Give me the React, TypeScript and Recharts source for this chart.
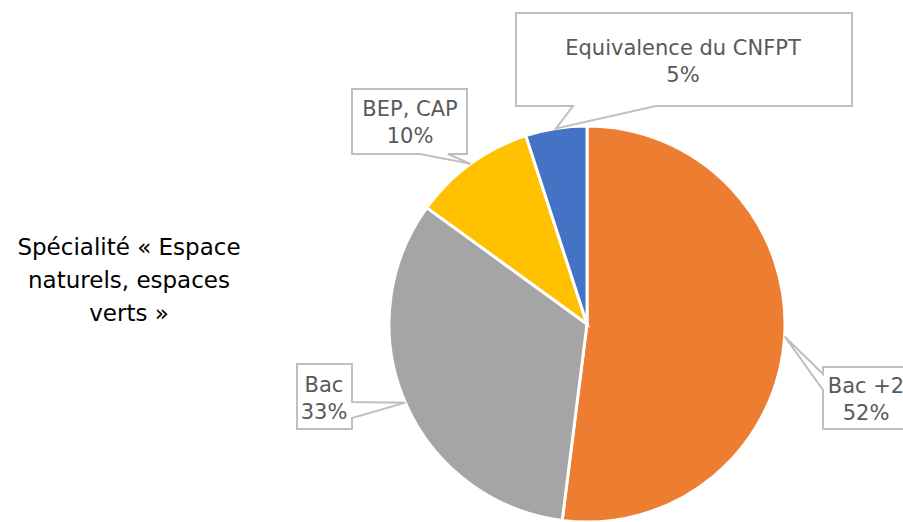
import React from 'react';
import { PieChart, Pie, Cell } from 'recharts';

// data
const categories = ['Bac +2', 'Bac', 'BEP, CAP', 'Equivalence du CNFPT'];
const shares = [52, 33, 10, 5];
const sliceColors = ['#ED7D31', '#A5A5A5', '#FFC000', '#4472C4'];
const titleLines = ['Spécialité « Espace', 'naturels, espaces', 'verts »'];

const chartData = categories.map((name, i) => ({ name, value: shares[i] }));

// callout boxes (position of each bubble, tail base on one of its edges)
type Callout = {
  x: number; y: number; w: number; h: number;
  edge: 'top' | 'bottom' | 'left' | 'right';
  a: number; b: number; // tail base, along the edge (a < b)
  tx: number; ty: number; // text centre x, first baseline
};
const callouts: Record<string, Callout> = {
  'Bac +2': { x: 823, y: 367, w: 90, h: 62, edge: 'left', a: 374, b: 390, tx: 866, ty: 393 },
  'Bac': { x: 297, y: 364, w: 55, h: 65, edge: 'right', a: 402, b: 418, tx: 324, ty: 392 },
  'BEP, CAP': { x: 352, y: 89, w: 115, h: 65, edge: 'bottom', a: 420, b: 448, tx: 410, ty: 116 },
  'Equivalence du CNFPT': { x: 516, y: 13, w: 336, h: 93, edge: 'bottom', a: 573, b: 656, tx: 683, ty: 55 },
};

const RADIAN = Math.PI / 180;

const calloutPath = (c: Callout, px: number, py: number) => {
  const { x, y, w, h, edge, a, b } = c;
  const r = x + w;
  const btm = y + h;
  let d = `M${x},${y}`;
  if (edge === 'top') d += ` L${a},${y} L${px},${py} L${b},${y}`;
  d += ` L${r},${y}`;
  if (edge === 'right') d += ` L${r},${a} L${px},${py} L${r},${b}`;
  d += ` L${r},${btm}`;
  if (edge === 'bottom') d += ` L${b},${btm} L${px},${py} L${a},${btm}`;
  d += ` L${x},${btm}`;
  if (edge === 'left') d += ` L${x},${b} L${px},${py} L${x},${a}`;
  return d + ' Z';
};

const renderLabel = (props: any) => {
  const { cx, cy, midAngle, outerRadius, name, value } = props;
  const c = callouts[name];
  if (!c) return null;
  const px = cx + outerRadius * Math.cos(-midAngle * RADIAN);
  const py = cy + outerRadius * Math.sin(-midAngle * RADIAN);
  return (
    <g>
      <path d={calloutPath(c, px, py)} fill="#fff" stroke="#BFBFBF" strokeWidth={2} />
      <text x={c.tx} y={c.ty} textAnchor="middle" fill="#595959" fontSize={21} fontFamily="DejaVu Sans">
        {name}
      </text>
      <text x={c.tx} y={c.ty + 27} textAnchor="middle" fill="#595959" fontSize={21} fontFamily="DejaVu Sans">
        {`${value}%`}
      </text>
    </g>
  );
};

export default function App() {
  return (
    <div style={{ position: 'absolute', left: 0, top: 0, width: 903, height: 522, background: '#fff', overflow: 'hidden' }}>
      <PieChart width={903} height={522} margin={{ top: 0, right: 0, bottom: 0, left: 0 }}>
        <Pie
          data={chartData}
          dataKey="value"
          nameKey="name"
          cx={587}
          cy={324}
          outerRadius={198}
          startAngle={90}
          endAngle={-270}
          stroke="#fff"
          strokeWidth={3}
          label={renderLabel}
          labelLine={false}
          isAnimationActive={false}
        >
          {chartData.map((entry, i) => (
            <Cell key={`cell-${i}`} fill={sliceColors[i]} />
          ))}
        </Pie>
      </PieChart>
      <svg width={903} height={522} style={{ position: 'absolute', left: 0, top: 0, pointerEvents: 'none' }}>
        {titleLines.map((line, i) => (
          <text
            key={i}
            x={129}
            y={255 + i * 33}
            textAnchor="middle"
            fill="#000"
            fontSize={23}
            fontFamily="DejaVu Sans"
          >
            {line}
          </text>
        ))}
      </svg>
    </div>
  );
}
